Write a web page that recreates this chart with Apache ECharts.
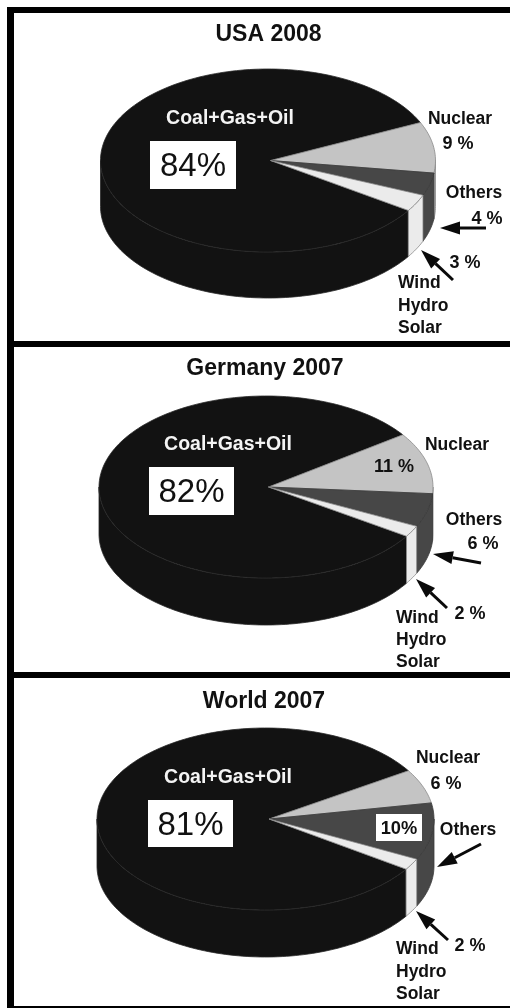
<!DOCTYPE html>
<html>
<head>
<meta charset="utf-8">
<script src="https://cdn.jsdelivr.net/npm/echarts@6/dist/echarts.min.js"></script>
<style>html,body{margin:0;padding:0;background:#fff}#c{width:510px;height:1008px}</style>
</head>
<body>
<div id="c"></div>
<script>
// ---- data ----
const categories = ["Coal+Gas+Oil", "Nuclear", "Others", "Wind Hydro Solar"];
const panelTitles = ["USA 2008", "Germany 2007", "World 2007"];
const usaValues = [84, 9, 4, 3];
const germanyValues = [82, 11, 6, 2];
const worldValues = [81, 6, 10, 2];
const allValues = [usaValues, germanyValues, worldValues];

// ---- layout and style ----
const FONT = '"Liberation Sans", Arial, sans-serif';
const sliceFill = ['#121212', '#c4c4c4', '#474747', '#ebebeb'];
const sliceStroke = ['#282828', '#8a8a8a', '#3a3a3a', '#8a8a8a'];
const panels = [
  { cx: 268, cy: 160.5, rx: 167.5, ry: 91.5, depth: 46, apexX: 270.5, start: 24.5,
    title: [268.5, 33], coal: [230, 117], box: [150, 141, 86, 48], pct: [193, 165],
    nuclear: [460, 118], nuclearPct: [458, 143, '#111'], others: [474, 192], othersPct: [487, 218],
    hydroPct: [465, 262], hydro: [398, 282, 305, 327],
    arrows: [[486, 228, 440, 228], [453, 280, 421, 250]] },
  { cx: 266, cy: 487, rx: 167, ry: 91, depth: 47, apexX: 268.5, start: 35,
    title: [265, 367], coal: [228, 443], box: [149, 467, 85, 48], pct: [191.5, 491],
    nuclear: [457, 444], nuclearPct: [394, 466, '#111'], others: [474, 519], othersPct: [483, 543],
    hydroPct: [470, 613], hydro: [396, 617, 639, 661],
    arrows: [[481, 563, 433, 554], [447, 608, 416, 579]] },
  { cx: 265.5, cy: 819, rx: 168.5, ry: 91, depth: 47, apexX: 269, start: 32,
    title: [264, 700], coal: [228, 776], box: [148, 800, 85, 47], pct: [190.5, 824],
    nuclear: [448, 757], nuclearPct: [446, 783, '#111'], others: [468, 829], othersBox: [376, 814, 46, 27], othersPct: [399, 828],
    hydroPct: [470, 945], hydro: [396, 948, 971, 993],
    arrows: [[481, 844, 437, 867], [448, 940, 416, 911]] }
];

const rad = d => d * Math.PI / 180;
function arc(p, a0, a1, dy) {
  const n = Math.max(2, Math.ceil(Math.abs(a1 - a0) / 1.5)), pts = [];
  for (let i = 0; i <= n; i++) {
    const a = rad(a0 + (a1 - a0) * i / n);
    pts.push([p.cx + p.rx * Math.cos(a), p.cy - p.ry * Math.sin(a) + dy]);
  }
  return pts;
}
function makeSeries(p, values) {
  const total = values.reduce((s, v) => s + v, 0);
  const sweeps = values.map(v => v / total * 360);
  // Coal ends where Nuclear starts; slices advance clockwise.
  const hiAngles = [];
  let a = p.start + sweeps[0];
  sweeps.forEach((s, i) => { hiAngles.push(a); a -= s; });
  return {
    type: 'custom', coordinateSystem: 'none', silent: true, animation: false,
    name: categories.join(' / '),
    data: values.map((v, i) => [i, v]),
    renderItem: function (params, api) {
      const i = api.value(0), sweep = api.value(1) / total * 360;
      const hi = hiAngles[i], lo = hi - sweep;
      const fill = sliceFill[i], stroke = sliceStroke[i];
      const children = [];
      for (const k of [-1, 0]) {
        const sLo = Math.max(lo, 180 + 360 * k), sHi = Math.min(hi, 360 + 360 * k);
        if (sHi > sLo) {
          const top = arc(p, sHi, sLo, 0), bottom = arc(p, sLo, sHi, p.depth);
          children.push({ type: 'polygon', shape: { points: top.concat(bottom) },
            style: { fill: fill, stroke: stroke, lineWidth: 0.8 } });
        }
      }
      const pts = [[p.apexX, p.cy]].concat(arc(p, hi, lo, 0));
      children.push({ type: 'polygon', shape: { points: pts },
        style: { fill: fill, stroke: stroke, lineWidth: 0.8 } });
      return { type: 'group', children: children };
    }
  };
}
function txt(text, x, y, size, opt) {
  opt = opt || {};
  return { type: 'text', silent: true, z: 12, x: x, y: y + size * 0.06, style: {
    text: text, fill: opt.fill || '#111', align: opt.align || 'center', verticalAlign: 'middle',
    fontFamily: FONT, fontSize: size, fontWeight: opt.weight || 'bold' } };
}
function rect(x, y, w, h, fill, z) {
  return { type: 'rect', silent: true, z: z, shape: { x: x, y: y, width: w, height: h }, style: { fill: fill } };
}
function arrow(a) {
  const [x0, y0, x1, y1] = a, L = Math.hypot(x1 - x0, y1 - y0), ux = (x1 - x0) / L, uy = (y1 - y0) / L;
  const hl = 20, hw = 6.5, bx = x1 - ux * hl, by = y1 - uy * hl, nx = -uy, ny = ux;
  return [
    { type: 'line', silent: true, z: 11, shape: { x1: x0, y1: y0, x2: bx, y2: by }, style: { stroke: '#0a0a0a', lineWidth: 3 } },
    { type: 'polygon', silent: true, z: 11, shape: { points: [[x1, y1], [bx + nx * hw, by + ny * hw], [bx - nx * hw, by - ny * hw]] }, style: { fill: '#0a0a0a' } }
  ];
}

const graphics = [
  rect(7, 7, 503, 6, '#000', 20),
  rect(7, 7, 7, 1001, '#000', 20),
  rect(14, 341, 496, 6, '#000', 20),
  rect(14, 672, 496, 6, '#000', 20),
  rect(14, 1006, 496, 2, '#000', 20)
];
panels.forEach((p, n) => {
  const v = allValues[n], pctText = n2 => v[n2] + ' %';
  graphics.push(txt(categories[0], p.coal[0], p.coal[1], 19.5, { fill: '#f4f4f4' }));
  graphics.push(rect(p.box[0], p.box[1], p.box[2], p.box[3], '#fff', 10));
  graphics.push(txt(v[0] + '%', p.pct[0], p.pct[1], 33, { weight: 'normal' }));
  graphics.push(txt(categories[1], p.nuclear[0], p.nuclear[1], 17.5));
  graphics.push(txt(pctText(1), p.nuclearPct[0], p.nuclearPct[1], 18, { fill: p.nuclearPct[2] }));
  graphics.push(txt(categories[2], p.others[0], p.others[1], 17.5));
  if (p.othersBox) {
    graphics.push(rect(p.othersBox[0], p.othersBox[1], p.othersBox[2], p.othersBox[3], '#fff', 10));
    graphics.push(txt(v[2] + '%', p.othersPct[0], p.othersPct[1], 18.3));
  } else {
    graphics.push(txt(pctText(2), p.othersPct[0], p.othersPct[1], 18));
  }
  graphics.push(txt(pctText(3), p.hydroPct[0], p.hydroPct[1], 18));
  categories[3].split(' ').forEach((w, i) => graphics.push(txt(w, p.hydro[0], p.hydro[i + 1], 17.5, { align: 'left' })));
  p.arrows.forEach(a => graphics.push(...arrow(a)));
});

const chart = echarts.init(document.getElementById('c'), null, { renderer: 'canvas' });
chart.setOption({
  backgroundColor: '#ffffff',
  animation: false,
  title: panels.map((p, n) => ({
    text: panelTitles[n], left: p.title[0], top: p.title[1] - 11.5, textAlign: 'center', padding: 0,
    textStyle: { fontFamily: FONT, fontSize: 23, fontWeight: 'bold', color: '#111', lineHeight: 26 }
  })),
  series: panels.map((p, n) => makeSeries(p, allValues[n])),
  graphic: { elements: graphics }
});
</script>
</body>
</html>
